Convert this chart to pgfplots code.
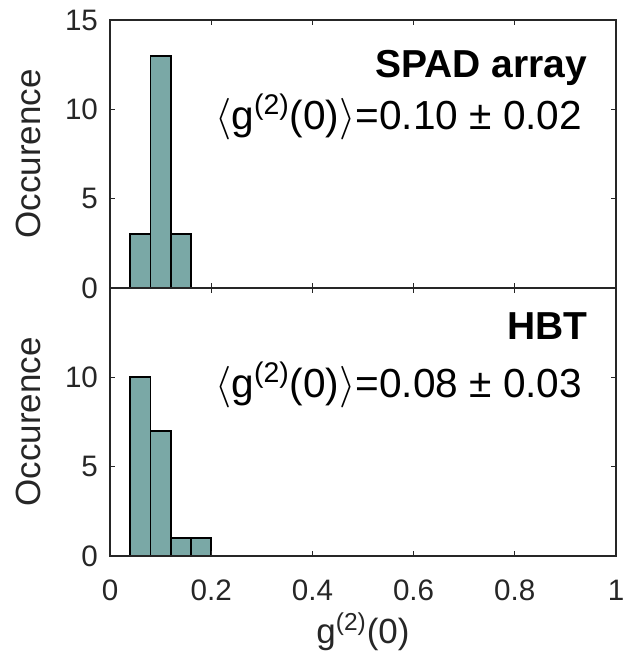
\documentclass[border=0pt]{standalone}
\usepackage{fontspec}
\setmainfont{Liberation Sans}
\usepackage{pgfplots}
\pgfplotsset{compat=1.18}
\definecolor{barc}{RGB}{122,168,166}
\definecolor{axc}{RGB}{38,38,38}
\pgfplotsset{hist/.style={
  scale only axis, width=253pt, height=134pt,
  xmin=0, xmax=1, ymin=0, ymax=15,
  xtick={0,0.2,0.4,0.6,0.8,1},
  tick align=inside, tick pos=both, major tick length=2.5pt,
  axis line style={axc, line width=0.75pt},
  every tick/.style={axc, line width=0.6pt},
  tick label style={font=\fontsize{14.8}{17}\selectfont, text=black!85},
  /pgf/number format/assume math mode=true,
  yticklabel style={xshift=-2.5pt},
  ylabel={Occurence},
  label style={font=\fontsize{17.5}{20}\selectfont, text=black!85},
  ylabel style={at={(axis description cs:0,0.5)}, yshift=41pt, anchor=center},
  axis on top,
}}
\begin{document}
\begin{tikzpicture}
\begin{axis}[hist, name=bot, at={(0,0)}, anchor=south west,
  ytick={0,5,10},
  xticklabel style={yshift=-8.5pt},
  xlabel={g\textsuperscript{(2)}(0)},
  xlabel style={at={(axis description cs:0.5,0)}, yshift=-43.5pt, anchor=base}]
\addplot[ybar, bar width=0.04, bar shift=0pt, fill=barc, draw=black, line width=0.9pt]
  coordinates {(0.06,10) (0.10,7) (0.14,1) (0.18,1)};
\node[anchor=base east, font=\bfseries\fontsize{19.5}{22}\selectfont] at (rel axis cs:0.957,0.806) {HBT};
\node[anchor=base east, font=\fontsize{20.3}{23}\selectfont] at (rel axis cs:0.947,0.59) {$\langle$g\textsuperscript{(2)}(0)$\rangle$=0.08 ± 0.03};
\end{axis}
\begin{axis}[hist, at={(bot.north west)}, anchor=south west,
  ytick={0,5,10,15}, xticklabels={}]
\addplot[ybar, bar width=0.04, bar shift=0pt, fill=barc, draw=black, line width=0.9pt]
  coordinates {(0.06,3) (0.10,13) (0.14,3)};
\node[anchor=base east, font=\bfseries\fontsize{19.5}{22}\selectfont] at (rel axis cs:0.957,0.787) {SPAD array};
\node[anchor=base east, font=\fontsize{20.3}{23}\selectfont] at (rel axis cs:0.947,0.59) {$\langle$g\textsuperscript{(2)}(0)$\rangle$=0.10 ± 0.02};
\end{axis}
\pgfresetboundingbox
\path[use as bounding box] (-55pt,-53.5pt) rectangle (257.5pt,278pt);
\end{tikzpicture}
\end{document}
